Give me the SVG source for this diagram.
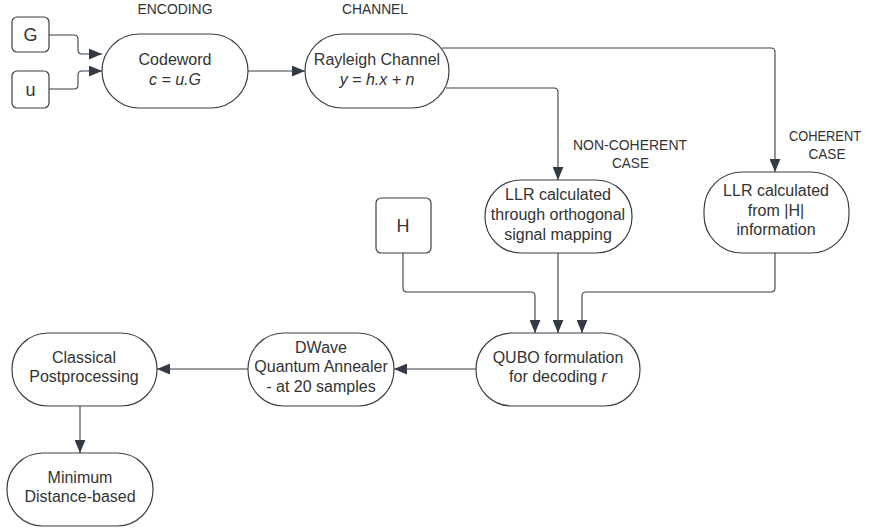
<svg xmlns="http://www.w3.org/2000/svg" width="870" height="529" viewBox="0 0 870 529">
<defs>
<style>
.n{fill:#fff;stroke:#3a3f47;stroke-width:1.2}
.t{font-family:"Liberation Sans",Arial,sans-serif;font-size:16px;fill:#333;text-anchor:middle}
.i{font-style:italic}
.l{font-family:"Liberation Sans",Arial,sans-serif;font-size:15.5px;fill:#333;text-anchor:middle}
.c{fill:none;stroke:#3a3f47;stroke-width:1.1}
</style>
<marker id="a" viewBox="0 0 12 10" refX="12" refY="5" markerWidth="13" markerHeight="11" markerUnits="userSpaceOnUse" orient="auto">
<path d="M0,0 L12,5 L0,10 Z" fill="#333a45"/>
</marker>
</defs>
<rect width="870" height="529" fill="#fff"/>
<text class="l" x="175" y="14" textLength="75" lengthAdjust="spacingAndGlyphs">ENCODING</text>
<text class="l" x="375" y="14" textLength="66" lengthAdjust="spacingAndGlyphs">CHANNEL</text>
<text class="l" x="630" y="150" textLength="114" lengthAdjust="spacingAndGlyphs">NON-COHERENT</text>
<text class="l" x="630.5" y="168" textLength="37" lengthAdjust="spacingAndGlyphs">CASE</text>
<text class="l" x="825" y="141" textLength="72" lengthAdjust="spacingAndGlyphs" style="font-size:14.5px">COHERENT</text>
<text class="l" x="827" y="159" textLength="37" lengthAdjust="spacingAndGlyphs">CASE</text>
<g id="connectors">
<path class="c" d="M49,35 H74 Q78,35 78,39 V50 Q78,54 82,54 H102" marker-end="url(#a)"/>
<path class="c" d="M49,89 H74 Q78,89 78,85 V75 Q78,71 82,71 H102" marker-end="url(#a)"/>
<path class="c" d="M248,71 H305" marker-end="url(#a)"/>
<path class="c" d="M442,48 H771 Q775,48 775,52 V172" marker-end="url(#a)"/>
<path class="c" d="M446,88 H554 Q558,88 558,92 V180" marker-end="url(#a)"/>
<path class="c" d="M403,253 V288 Q403,292 407,292 H531 Q535,292 535,296 V333" marker-end="url(#a)"/>
<path class="c" d="M558,253 V333" marker-end="url(#a)"/>
<path class="c" d="M775,253 V288 Q775,292 771,292 H586 Q582,292 582,296 V333" marker-end="url(#a)"/>
<path class="c" d="M476,369 H394" marker-end="url(#a)"/>
<path class="c" d="M248,369 H157" marker-end="url(#a)"/>
<path class="c" d="M80,406 V453" marker-end="url(#a)"/>
</g>
<g id="G"><rect class="n" x="12" y="17" width="37" height="35" rx="5"/><text class="t" x="30.5" y="41" style="font-size:18px">G</text></g>
<g id="u"><rect class="n" x="12" y="71" width="37" height="37" rx="5"/><text class="t" x="30.5" y="96" style="font-size:18px">u</text></g>
<g id="codeword"><rect class="n" x="102" y="34" width="146" height="74" rx="37"/><text class="t" x="175" y="65">Codeword</text><text class="t i" x="175" y="85">c = u.G</text></g>
<g id="rayleigh"><rect class="n" x="305" y="34" width="144" height="74" rx="37"/><text class="t" x="377" y="65">Rayleigh Channel</text><text class="t i" x="377" y="85">y = h.x + n</text></g>
<g id="llr-nc"><rect class="n" x="485" y="180" width="147" height="73" rx="36"/><text class="t" x="558" y="200">LLR calculated</text><text class="t" x="558" y="220">through orthogonal</text><text class="t" x="558" y="240">signal mapping</text></g>
<g id="llr-c"><rect class="n" x="704" y="172" width="145" height="81" rx="38"/><text class="t" x="776" y="196">LLR calculated</text><text class="t" x="776" y="216">from |H|</text><text class="t" x="776" y="235">information</text></g>
<g id="H"><rect class="n" x="376" y="198" width="55" height="55" rx="5"/><text class="t" x="403" y="232" style="font-size:18px">H</text></g>
<g id="qubo"><rect class="n" x="476" y="333" width="164" height="73" rx="36"/><text class="t" x="558" y="363">QUBO formulation</text><text class="t" x="558" y="382">for decoding <tspan class="i">r</tspan></text></g>
<g id="dwave"><rect class="n" x="248" y="333" width="146" height="73" rx="36"/><text class="t" x="321" y="353">DWave</text><text class="t" x="321" y="372">Quantum Annealer</text><text class="t" x="321" y="392">- at 20 samples</text></g>
<g id="classical"><rect class="n" x="12" y="333" width="145" height="73" rx="36"/><text class="t" x="84" y="363">Classical</text><text class="t" x="84" y="382">Postprocessing</text></g>
<g id="minimum"><rect class="n" x="7" y="453" width="146" height="73" rx="36"/><text class="t" x="80" y="483">Minimum</text><text class="t" x="80" y="502">Distance-based</text></g>
</svg>
